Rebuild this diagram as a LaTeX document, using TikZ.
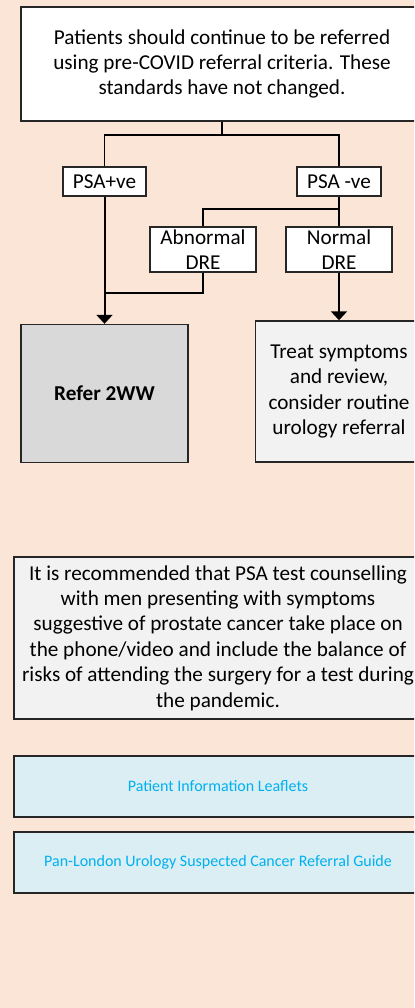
\documentclass[tikz,border=0pt]{standalone}
\usepackage{fontspec}
\setmainfont{Carlito}
\usepackage{xcolor}
\usetikzlibrary{arrows.meta}
\definecolor{sheet}{HTML}{FBE5D6}
\definecolor{refergrey}{HTML}{D9D9D9}
\definecolor{notegrey}{HTML}{F2F2F2}
\definecolor{linkfill}{HTML}{DAEEF3}
\definecolor{linktext}{HTML}{00B0F0}

\begin{document}
\begin{tikzpicture}[x=0.5pt,y=-0.5pt,>={Triangle[width=8pt,length=4.5pt]},font=\fontsize{10.6}{12.7}\selectfont]
    % one unit is one pixel of the sheet
    \tikzstyle{box}=[rectangle,draw=black!85,line width=0.7pt,fill=white,inner sep=0pt,align=center]
    \tikzstyle{outcome}=[box,minimum width=83.5pt,minimum height=69pt]
    \tikzstyle{link}=[box,line width=0.8pt,fill=linkfill,text=linktext,
    font=\fontsize{8}{10}\selectfont,minimum width=204pt,minimum height=30.5pt]
    \tikzstyle{flow}=[line width=0.7pt]
    \tikzstyle{flow-arrow}=[->,line width=1pt]

    \fill[sheet] (0,0) rectangle (414,1008);
    \useasboundingbox (0,0) rectangle (414,1008);
    \clip (0,0) rectangle (414,1008);

    \node [box,minimum width=201pt,minimum height=57pt] (criteria) at (222,64)
      {Patients should continue to be referred\\using pre-COVID referral criteria. These\\standards have not changed.};
    \node [box,minimum width=41.5pt,minimum height=14.5pt] (psapos) at (104.5,181.5) {PSA+ve};
    \node [box,minimum width=42pt,minimum height=14.5pt]   (psaneg) at (339,181.5) {PSA -ve};
    \node [box,minimum width=53pt,minimum height=22.5pt]   (abnormal) at (203,249.5) {Abnormal\\DRE};
    \node [box,minimum width=53pt,minimum height=22.5pt]   (normal) at (339,249.5) {Normal\\DRE};
    \node [outcome,fill=refergrey,font=\fontsize{10.6}{12.7}\selectfont\bfseries] (refer) at (104.5,393.5) {Refer 2WW};
    \node [outcome,fill=notegrey,minimum height=70.5pt] (treat) at (339,391.5)
      {Treat symptoms\\and review,\\consider routine\\urology referral};
    \node [box,fill=notegrey,minimum width=204pt,minimum height=81pt] (counsel) at (218,638)
      {It is recommended that PSA test counselling\\with men presenting with symptoms\\suggestive of prostate cancer take place on\\the phone/video and include the balance of\\risks of attending the surgery for a test during\\the pandemic.};
    \node [link] (leaflets) at (218,786.5) {Patient Information Leaflets};
    \node [link] (guide) at (218,862.5) {Pan-London Urology Suspected Cancer Referral Guide};

    \coordinate (split) at (222,135);
    \coordinate (dresplit) at (339,209);
    \coordinate (join) at (104.5,293);

    \draw [flow] (criteria) -- (split);
    \draw [flow] (split) -| (psapos);
    \draw [flow] (split) -| (psaneg);
    \draw [flow] (psaneg) -- (normal);
    \draw [flow] (dresplit) -| (abnormal);
    \draw [flow] (abnormal) |- (join);
    \draw [flow-arrow] (psapos) -- (refer);
    \draw [flow-arrow] (normal) -- (treat);
  \end{tikzpicture}
\end{document}
